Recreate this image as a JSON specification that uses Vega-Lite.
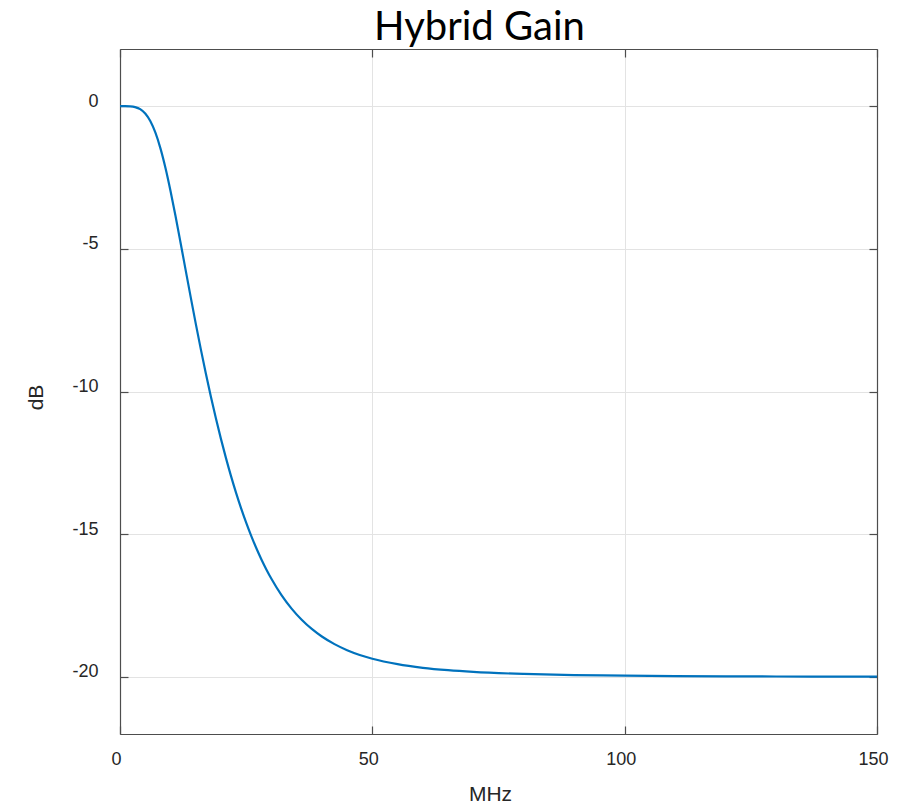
{
  "$schema": "https://vega.github.io/schema/vega-lite/v6.json",
  "autosize": {"type": "none"},
  "padding": {"left": 120, "top": 49, "right": 37, "bottom": 69},
  "width": 757,
  "height": 685,
  "background": "white",
  "title": {
    "text": "Hybrid Gain",
    "font": "Lato",
    "fontSize": 40,
    "fontWeight": "normal",
    "color": "#000000",
    "anchor": "middle",
    "baseline": "bottom",
    "offset": 3,
    "dx": -19,
    "dy": 43
  },
  "config": {
    "view": {"stroke": null},
    "axis": {
      "labelFont": "Liberation Sans",
      "titleFont": "Liberation Sans",
      "labelColor": "#262626",
      "titleColor": "#262626",
      "labelFontSize": 18,
      "titleFontSize": 21,
      "titleFontWeight": "normal",
      "domainColor": "#4d4d4d",
      "tickColor": "#4d4d4d",
      "gridColor": "#e3e3e3",
      "domainWidth": 1.2,
      "tickWidth": 1.2
    }
  },
  "data": {
    "values": [
      {"f": 0, "db": 0}, {"f": 1, "db": 0}, {"f": 2, "db": -0.007}, {"f": 3, "db": -0.035},
      {"f": 4, "db": -0.109}, {"f": 5, "db": -0.261}, {"f": 6, "db": -0.524}, {"f": 7, "db": -0.924},
      {"f": 8, "db": -1.473}, {"f": 9, "db": -2.162}, {"f": 10, "db": -2.967}, {"f": 11, "db": -3.854},
      {"f": 12, "db": -4.787}, {"f": 13, "db": -5.739}, {"f": 14, "db": -6.686}, {"f": 15, "db": -7.612},
      {"f": 16, "db": -8.506}, {"f": 17, "db": -9.361}, {"f": 18, "db": -10.173}, {"f": 19, "db": -10.939},
      {"f": 20, "db": -11.66}, {"f": 21, "db": -12.335}, {"f": 22, "db": -12.964}, {"f": 23, "db": -13.55},
      {"f": 24, "db": -14.093}, {"f": 25, "db": -14.595}, {"f": 26, "db": -15.059}, {"f": 27, "db": -15.485},
      {"f": 28, "db": -15.876}, {"f": 29, "db": -16.234}, {"f": 30, "db": -16.561}, {"f": 32, "db": -17.133},
      {"f": 34, "db": -17.606}, {"f": 36, "db": -17.997}, {"f": 38, "db": -18.32}, {"f": 40, "db": -18.585},
      {"f": 42.5, "db": -18.852}, {"f": 45, "db": -19.063}, {"f": 47.5, "db": -19.23}, {"f": 50, "db": -19.363},
      {"f": 55, "db": -19.554}, {"f": 60, "db": -19.68}, {"f": 65, "db": -19.765}, {"f": 70, "db": -19.825},
      {"f": 80, "db": -19.896}, {"f": 90, "db": -19.935}, {"f": 100, "db": -19.957}, {"f": 110, "db": -19.971},
      {"f": 120, "db": -19.979}, {"f": 130, "db": -19.985}, {"f": 140, "db": -19.989}, {"f": 150, "db": -19.991}
    ]
  },
  "layer": [
    {
      "mark": {"type": "line", "color": "#0072BD", "strokeWidth": 2.2, "interpolate": "monotone", "clip": true},
      "encoding": {
        "x": {
          "field": "f", "type": "quantitative",
          "scale": {"domain": [0, 150], "nice": false, "zero": false},
          "axis": {
            "orient": "bottom", "title": "MHz", "values": [0, 50, 100, 150],
            "tickSize": -8, "labelPadding": 24, "labelOffset": -4, "labelBaseline": "top",
            "titleX": 370, "titleY": 66, "titleBaseline": "alphabetic", "titleAlign": "center",
            "grid": true, "labelFlush": false
          }
        },
        "y": {
          "field": "db", "type": "quantitative",
          "scale": {"domain": [-22, 2], "nice": false, "zero": false},
          "axis": {
            "orient": "left", "title": "dB", "values": [-20, -15, -10, -5, 0],
            "labelExpr": "'' + datum.value",
            "tickSize": -8, "labelPadding": 30, "labelOffset": -5,
            "titleX": -78, "titleY": 348, "titleBaseline": "alphabetic", "titleAlign": "center", "titleAngle": -90,
            "grid": true, "labelFlush": false
          }
        }
      }
    },
    {
      "mark": {"type": "point", "opacity": 0},
      "encoding": {
        "x": {
          "field": "f", "type": "quantitative",
          "axis": {"orient": "top", "title": null, "labels": false, "values": [0, 50, 100, 150], "tickSize": -8, "grid": false}
        },
        "y": {
          "field": "db", "type": "quantitative",
          "axis": {"orient": "right", "title": null, "labels": false, "values": [-20, -15, -10, -5, 0], "tickSize": -8, "grid": false}
        }
      }
    }
  ],
  "resolve": {"axis": {"x": "independent", "y": "independent"}}
}
